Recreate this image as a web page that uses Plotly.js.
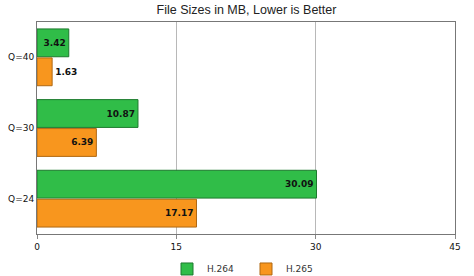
<!DOCTYPE html>
<html><head><meta charset="utf-8">
<script src="https://cdn.plot.ly/plotly-3.0.1.min.js"></script>
<style>html,body{margin:0;padding:0;background:#fff}#c{width:474px;height:276px}</style>
</head><body><div id="c"></div>
<script>
var categories = ['Q=40', 'Q=30', 'Q=24'];
var h264 = [3.42, 10.87, 30.09];
var h265 = [1.63, 6.39, 17.17];
var seriesNames = ['H.264', 'H.265'];
var xTicks = [0, 15, 30, 45];

var txtFont = {family: 'DejaVu Sans', size: 9, color: '#111', weight: 'bold'};
var traces = [
  {type: 'bar', orientation: 'h', name: seriesNames[0], y: categories, x: h264,
   marker: {color: '#30bd48', line: {color: '#1d7a2e', width: 1}},
   text: h264.map(function(v){return v.toFixed(2);}), textposition: 'auto',
   insidetextanchor: 'end', insidetextfont: txtFont, outsidetextfont: txtFont,
   cliponaxis: false, hoverinfo: 'none'},
  {type: 'bar', orientation: 'h', name: seriesNames[1], y: categories, x: h265,
   marker: {color: '#f8961e', line: {color: '#b06812', width: 1}},
   text: h265.map(function(v){return v.toFixed(2);}), textposition: 'auto',
   insidetextanchor: 'end', insidetextfont: txtFont, outsidetextfont: txtFont,
   cliponaxis: false, hoverinfo: 'none'}
];
var layout = {
  width: 474, height: 276,
  margin: {l: 37, r: 19, t: 22, b: 42, autoexpand: false},
  paper_bgcolor: '#fff', plot_bgcolor: '#fff',
  title: {text: 'File Sizes in MB, Lower is Better', x: 0.52, xanchor: 'center', y: 0.965, yanchor: 'middle',
          font: {family: 'Liberation Sans, Arial', size: 12.5, color: '#222'}},
  barmode: 'group', bargap: 0.18, bargroupgap: 0.04,
  xaxis: {range: [0, 45], tickvals: xTicks, ticktext: xTicks.map(String),
          showgrid: true, gridcolor: '#b8b8b8', gridwidth: 1,
          showline: true, linecolor: '#777', linewidth: 1, mirror: true,
          ticks: 'outside', ticklen: 4, tickcolor: '#888',
          zeroline: false, fixedrange: true,
          tickfont: {family: 'DejaVu Sans', size: 9, color: '#111'}},
  yaxis: {autorange: 'reversed', type: 'category',
          showline: true, linecolor: '#777', linewidth: 1, mirror: true,
          ticks: '', showgrid: false, fixedrange: true,
          tickfont: {family: 'DejaVu Sans', size: 9, color: '#111'}},
  showlegend: true,
  legend: {orientation: 'h', x: 0.5, xanchor: 'center', y: -0.165, yanchor: 'middle',
           font: {family: 'DejaVu Sans', size: 9, color: '#333'},
           itemwidth: 30, entrywidth: 34, tracegroupgap: 0, traceorder: 'normal'}
};
Plotly.newPlot('c', traces, layout, {displayModeBar: false, staticPlot: true});
</script></body></html>
